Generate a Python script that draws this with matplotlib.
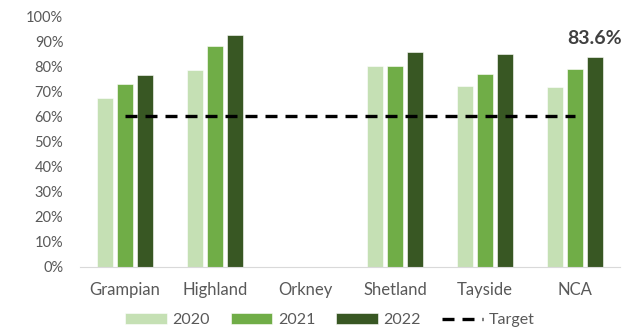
import matplotlib.pyplot as plt
import numpy as np

plt.rcParams['font.family'] = ['Lato', 'DejaVu Sans']

regions = ['Grampian', 'Highland', 'Orkney', 'Shetland', 'Tayside', 'NCA']
years = ['2020', '2021', '2022']
y2020 = [67.3, 78.6, np.nan, 80.0, 72.1, 71.7]
y2021 = [72.8, 87.9, np.nan, 80.0, 76.7, 79.0]
y2022 = [76.3, 92.6, np.nan, 85.8, 85.0, 83.6]
target = [60, 60, 60, 60, 60, 60]

colors = ['#C5E0B4', '#70AD47', '#385723']

fig = plt.figure(figsize=(6.44, 3.35), dpi=100)
ax = fig.add_axes([0.1242, 0.2039, 0.8385, 0.7483])

x = np.arange(len(regions))
width = 0.178
step = 0.222
handles = []
for i, (vals, c, lab) in enumerate(zip([y2020, y2021, y2022], colors, years)):
    h = ax.bar(x + (i - 1) * step, np.array(vals) / 100, width, color=c,
               edgecolor='white', linewidth=0.4, label=lab, zorder=2)
    handles.append(h)

line, = ax.plot(x, np.array(target) / 100, color='black', lw=2.4,
                dashes=(3.6, 2.4), label='Target', zorder=3)
handles.append(line)

# highlight latest NCA value
ax.annotate(f'{y2022[-1]:.1f}%', xy=(x[-1] + step, y2022[-1] / 100),
            xytext=(0, 7), textcoords='offset points', ha='center', va='bottom',
            fontsize=14, fontweight='bold', color='#404040')

ax.set_xlim(-0.5, len(regions) - 0.5)
ax.set_ylim(0, 1.0)
ticks = np.arange(0, 1.01, 0.1)
ax.set_yticks(ticks)
ax.set_yticklabels([f'{int(round(v * 100))}%' for v in ticks])
ax.set_xticks(x)
ax.set_xticklabels(regions)
ax.tick_params(axis='both', length=0, colors='#595959')
ax.tick_params(axis='y', pad=12, labelsize=10.5)
ax.tick_params(axis='x', pad=11, labelsize=12)
for s in ['top', 'right', 'left']:
    ax.spines[s].set_visible(False)
ax.spines['bottom'].set_color('#D9D9D9')

fig.legend(handles=handles, labels=years + ['Target'], loc='center',
           bbox_to_anchor=(330 / 644, 1 - 320 / 335), ncol=4, frameon=False,
           fontsize=11.5, handlelength=2.6, handleheight=0.62, columnspacing=1.3,
           handletextpad=0.35, labelcolor='#595959', borderpad=0.1)

fig.savefig('out.png', dpi=100)
